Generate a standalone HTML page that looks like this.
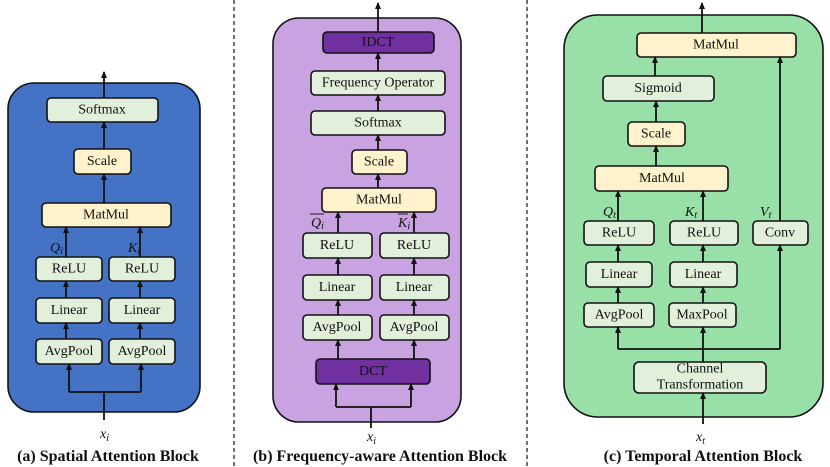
<!DOCTYPE html>
<html><head><meta charset="utf-8"><style>
html,body{margin:0;padding:0;background:#fff;}
svg{display:block;}
text{font-family:"Liberation Serif",serif;fill:#111;}
.b{stroke:#111;stroke-width:1.6;}
.g{fill:#e2efda;}
.y{fill:#fff2cc;}
.p{fill:#7030a0;}
.t{font-size:14px;text-anchor:middle;dominant-baseline:central;}
.l{stroke:#111;stroke-width:1.8;fill:none;}
.m{font-size:14px;font-style:italic;}
.h{font-size:16px;font-weight:bold;text-anchor:middle;}
</style></head><body>
<svg width="830" height="467" viewBox="0 0 830 467" xmlns="http://www.w3.org/2000/svg">
<defs><marker id="a" markerWidth="7" markerHeight="7" refX="6" refY="3" orient="auto" markerUnits="userSpaceOnUse" viewBox="0 0 7 6"><path d="M0,0 L7,3 L0,6 Z" fill="#111"/></marker></defs>
<line x1="234" y1="0" x2="234" y2="467" stroke="#111" stroke-width="1.2" stroke-dasharray="4,3"/>
<line x1="527" y1="0" x2="527" y2="467" stroke="#111" stroke-width="1.2" stroke-dasharray="4,3"/>

<!-- (a) -->
<rect x="8" y="83" width="192" height="329" rx="26" fill="#4472c4" class="b"/>
<rect x="47" y="98" width="111" height="24" rx="4" class="b g"/><text x="102" y="110" class="t">Softmax</text>
<rect x="74" y="149" width="57" height="25" rx="4" class="b y"/><text x="102" y="161.5" class="t">Scale</text>
<rect x="42" y="203" width="129" height="24" rx="4" class="b y"/><text x="106" y="215" class="t">MatMul</text>
<rect x="36" y="257" width="66" height="24" rx="4" class="b g"/><text x="69" y="269" class="t">ReLU</text>
<rect x="109" y="257" width="66" height="24" rx="4" class="b g"/><text x="142" y="269" class="t">ReLU</text>
<rect x="36" y="298" width="66" height="25" rx="4" class="b g"/><text x="69" y="310.5" class="t">Linear</text>
<rect x="109" y="298" width="66" height="25" rx="4" class="b g"/><text x="142" y="310.5" class="t">Linear</text>
<rect x="36" y="339" width="66" height="25" rx="4" class="b g"/><text x="69" y="351.5" class="t">AvgPool</text>
<rect x="109" y="339" width="66" height="25" rx="4" class="b g"/><text x="142" y="351.5" class="t">AvgPool</text>
<path class="l" d="M104,98 V72" marker-end="url(#a)"/>
<path class="l" d="M104,149 V122" marker-end="url(#a)"/>
<path class="l" d="M104,203 V174" marker-end="url(#a)"/>
<path class="l" d="M66,257 V227" marker-end="url(#a)"/>
<path class="l" d="M140,257 V227" marker-end="url(#a)"/>
<path class="l" d="M66,298 V281" marker-end="url(#a)"/>
<path class="l" d="M140,298 V281" marker-end="url(#a)"/>
<path class="l" d="M66,339 V323" marker-end="url(#a)"/>
<path class="l" d="M140,339 V323" marker-end="url(#a)"/>
<path class="l" d="M104,420 V392"/>
<path class="l" d="M69,392 H141"/>
<path class="l" d="M69,392 V364" marker-end="url(#a)"/>
<path class="l" d="M141,392 V364" marker-end="url(#a)"/>
<text x="50" y="252" class="m">Q<tspan font-size="10" dy="2">i</tspan></text>
<text x="128" y="252" class="m">K<tspan font-size="10" dy="2">i</tspan></text>
<text x="100" y="438" class="m" font-size="15">x<tspan font-size="10" dy="3">i</tspan></text>
<text x="108" y="461" class="h">(a) Spatial Attention Block</text>

<!-- (b) -->
<rect x="273" y="18" width="188" height="404" rx="26" fill="#c9a2e2" class="b"/>
<rect x="323" y="32" width="111" height="21" rx="4" class="b p"/><text x="378" y="42.5" class="t">IDCT</text>
<rect x="311" y="71" width="134" height="24" rx="4" class="b g"/><text x="378" y="83" class="t">Frequency Operator</text>
<rect x="311" y="111" width="134" height="24" rx="4" class="b g"/><text x="378" y="123" class="t">Softmax</text>
<rect x="352" y="150" width="55" height="24" rx="4" class="b y"/><text x="379" y="162" class="t">Scale</text>
<rect x="322" y="188" width="114" height="24" rx="4" class="b y"/><text x="379" y="200" class="t">MatMul</text>
<rect x="303" y="233" width="69" height="25" rx="4" class="b g"/><text x="337" y="245.5" class="t">ReLU</text>
<rect x="380" y="233" width="69" height="25" rx="4" class="b g"/><text x="414" y="245.5" class="t">ReLU</text>
<rect x="303" y="275" width="69" height="25" rx="4" class="b g"/><text x="337" y="287.5" class="t">Linear</text>
<rect x="380" y="275" width="69" height="25" rx="4" class="b g"/><text x="414" y="287.5" class="t">Linear</text>
<rect x="303" y="315" width="69" height="25" rx="4" class="b g"/><text x="337" y="327.5" class="t">AvgPool</text>
<rect x="380" y="315" width="69" height="25" rx="4" class="b g"/><text x="414" y="327.5" class="t">AvgPool</text>
<rect x="316" y="359" width="114" height="25" rx="4" class="b p"/><text x="373" y="371.5" class="t" font-size="16">DCT</text>
<path class="l" d="M378,32 V3" marker-end="url(#a)"/>
<path class="l" d="M378,71 V53" marker-end="url(#a)"/>
<path class="l" d="M378,111 V95" marker-end="url(#a)"/>
<path class="l" d="M378,150 V135" marker-end="url(#a)"/>
<path class="l" d="M378,188 V174" marker-end="url(#a)"/>
<path class="l" d="M338,233 V212" marker-end="url(#a)"/>
<path class="l" d="M414,233 V212" marker-end="url(#a)"/>
<path class="l" d="M338,275 V258" marker-end="url(#a)"/>
<path class="l" d="M414,275 V258" marker-end="url(#a)"/>
<path class="l" d="M338,315 V300" marker-end="url(#a)"/>
<path class="l" d="M414,315 V300" marker-end="url(#a)"/>
<path class="l" d="M338,359 V340" marker-end="url(#a)"/>
<path class="l" d="M414,359 V340" marker-end="url(#a)"/>
<path class="l" d="M371,428 V407"/>
<path class="l" d="M336,407 H411"/>
<path class="l" d="M336,407 V384" marker-end="url(#a)"/>
<path class="l" d="M411,407 V384" marker-end="url(#a)"/>
<text x="311" y="227" class="m">Q<tspan font-size="10" dy="2">i</tspan></text>
<line x1="310" y1="214" x2="324" y2="214" stroke="#111" stroke-width="0.9"/>
<text x="398" y="227" class="m">K<tspan font-size="10" dy="2">i</tspan></text>
<line x1="398" y1="214" x2="408" y2="214" stroke="#111" stroke-width="0.9"/>
<text x="367" y="441" class="m" font-size="15">x<tspan font-size="10" dy="3">i</tspan></text>
<text x="380" y="461" class="h">(b)  Frequency-aware Attention Block</text>

<!-- (c) -->
<rect x="564" y="15" width="259" height="402" rx="34" fill="#98e0a8" class="b"/>
<rect x="637" y="33" width="159" height="24" rx="4" class="b y"/><text x="716" y="45" class="t">MatMul</text>
<rect x="603" y="76" width="111" height="25" rx="4" class="b g"/><text x="658" y="88.5" class="t">Sigmoid</text>
<rect x="628" y="122" width="57" height="24" rx="4" class="b y"/><text x="656" y="134" class="t">Scale</text>
<rect x="595" y="166" width="133" height="25" rx="4" class="b y"/><text x="662" y="178.5" class="t">MatMul</text>
<rect x="584" y="221" width="70" height="24" rx="4" class="b g"/><text x="619" y="233" class="t">ReLU</text>
<rect x="670" y="221" width="68" height="24" rx="4" class="b g"/><text x="704" y="233" class="t">ReLU</text>
<rect x="753" y="221" width="55" height="24" rx="4" class="b g"/><text x="780" y="233" class="t">Conv</text>
<rect x="586" y="262" width="66" height="25" rx="4" class="b g"/><text x="619" y="274.5" class="t">Linear</text>
<rect x="670" y="262" width="67" height="25" rx="4" class="b g"/><text x="703" y="274.5" class="t">Linear</text>
<rect x="584" y="303" width="70" height="24" rx="4" class="b g"/><text x="619" y="315" class="t">AvgPool</text>
<rect x="669" y="303" width="67" height="24" rx="4" class="b g"/><text x="702" y="315" class="t">MaxPool</text>
<rect x="634" y="362" width="132" height="31" rx="5" class="b g"/>
<path class="l" d="M702,33 V3" marker-end="url(#a)"/>
<path class="l" d="M655,76 V57" marker-end="url(#a)"/>
<path class="l" d="M656,122 V101" marker-end="url(#a)"/>
<path class="l" d="M656,166 V146" marker-end="url(#a)"/>
<path class="l" d="M618,221 V191" marker-end="url(#a)"/>
<path class="l" d="M703,221 V191" marker-end="url(#a)"/>
<path class="l" d="M618,262 V245" marker-end="url(#a)"/>
<path class="l" d="M703,262 V245" marker-end="url(#a)"/>
<path class="l" d="M618,303 V287" marker-end="url(#a)"/>
<path class="l" d="M703,303 V287" marker-end="url(#a)"/>
<path class="l" d="M780,221 V57" marker-end="url(#a)"/>
<path class="l" d="M618,349 H780"/>
<path class="l" d="M618,349 V327" marker-end="url(#a)"/>
<path class="l" d="M780,349 V245" marker-end="url(#a)"/>
<path class="l" d="M703,362 V327" marker-end="url(#a)"/>
<path class="l" d="M703,424 V393" marker-end="url(#a)"/>
<text x="700" y="369" class="t">Channel</text><text x="700" y="385" class="t">Transformation</text>
<text x="603" y="216" class="m">Q<tspan font-size="10" dy="2">t</tspan></text>
<text x="685" y="216" class="m">K<tspan font-size="10" dy="2">t</tspan></text>
<text x="760" y="216" class="m">V<tspan font-size="10" dy="2">t</tspan></text>
<text x="696" y="441" class="m" font-size="15">x<tspan font-size="10" dy="3">t</tspan></text>
<text x="703" y="461" class="h">(c) Temporal Attention Block</text>
</svg>
</body></html>
